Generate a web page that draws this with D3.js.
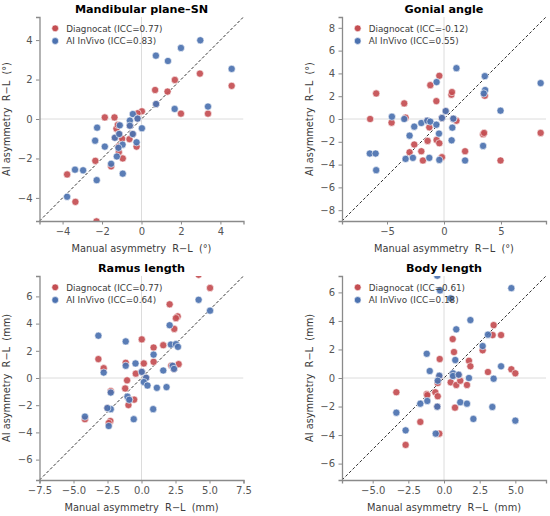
<!DOCTYPE html>
<html>
<head>
<meta charset="utf-8">
<script src="https://cdn.jsdelivr.net/npm/d3@7"></script>
<style>
  body { margin: 0; background: #fff; }
  svg { font-family: "DejaVu Sans", sans-serif; }
</style>
</head>
<body>
<script>
// panel titles, units, legends
const titles = ["Mandibular plane\u2013SN", "Gonial angle", "Ramus length", "Body length"];
const units = ["(\u00b0)", "(\u00b0)", "(mm)", "(mm)"];
const iccDiagnocat = ["0.77", "-0.12", "0.77", "0.61"];
const iccInvivo = ["0.83", "0.55", "0.64", "0.18"];
const limits = [5.17, 8.95, 7.5, 7.15];
const xTicks = [[-4, -2, 0, 2, 4], [-5, 0, 5], [-7.5, -5, -2.5, 0, 2.5, 5, 7.5], [-5, -2.5, 0, 2.5, 5]];
const yTicks = [[-4, -2, 0, 2, 4], [-8, -6, -4, -2, 0, 2, 4, 6, 8], [-6, -4, -2, 0, 2, 4, 6], [-6, -4, -2, 0, 2, 4, 6]];
const xTickFormats = ["d", "d", ".1f", ".1f"];

// [manual, AI] pairs
const mandDiagnocat = [[2.96, 2.3], [1.69, 1.98], [0.69, 1.47], [1.32, 1.39], [4.57, 1.68], [2.0, 0.27], [3.37, 0.27],
  [0.74, 0.76], [0.02, 0.39], [-0.2, 0.29], [-1.86, 0.08], [-1.37, 0.08], [-1.27, -0.49], [-1.2, -0.3],
  [-0.98, -1.0], [-0.61, -1.02], [-0.25, -1.4], [-1.17, -1.4], [-1.15, -1.68], [-0.95, -2.0], [-2.34, -2.12],
  [-1.54, -2.4], [-3.77, -2.81], [-3.35, -4.2], [-2.28, -5.19], [-0.44, -0.76], [-1.35, -0.95], [-0.59, -0.34],
  [-0.2, 0.02], [-1.13, -0.76]];
const mandInvivo = [[2.98, 3.99], [2.0, 3.6], [0.73, 3.21], [1.34, 2.94], [4.57, 2.54], [0.74, 0.76], [1.68, 0.51],
  [3.37, 0.63], [-0.44, 0.25], [-0.2, 0.02], [-0.59, -0.08], [0.02, -0.47], [-1.1, -0.32], [-0.59, -0.34],
  [-2.25, -0.44], [-1.35, -0.95], [-1.13, -0.76], [-0.44, -0.76], [-2.35, -1.1], [-1.86, -1.4], [-0.96, -1.3],
  [-1.17, -1.46], [-0.25, -1.18], [-1.25, -1.9], [-1.54, -2.27], [-3.37, -2.57], [-2.96, -2.6], [-0.95, -2.77],
  [-2.27, -3.1], [-3.77, -3.94]];

const gonialDiagnocat = [[-6.48, 0.0], [-5.95, 2.24], [-4.6, -0.32], [-3.49, 1.37], [-3.37, 0.12], [-3.02, -2.92],
  [-2.61, -2.24], [-1.99, -2.83], [-1.85, -3.64], [-1.44, -1.92], [-1.29, -0.73], [-1.2, 2.97], [-0.67, 1.57],
  [-0.65, -1.84], [-0.41, 3.79], [-0.41, -2.13], [-0.18, -3.35], [0.65, 2.13], [0.7, 2.36], [1.09, -0.15],
  [1.85, -2.83], [3.43, -1.34], [3.52, -1.22], [3.58, 2.04], [4.96, -3.64], [8.48, -1.22], [0.15, 0.7],
  [-1.47, -0.15], [-0.18, 0.09], [0.82, 0.03]];
const gonialInvivo = [[1.09, 4.46], [-0.65, 3.24], [3.58, 3.76], [3.61, 2.54], [3.49, 2.24], [8.48, 3.15], [4.96, 0.73],
  [0.15, 0.7], [-0.18, 0.09], [0.82, 0.03], [-4.57, 0.2], [-3.49, 0.0], [-2.61, -0.67], [-1.99, -0.35],
  [-1.47, -0.15], [-1.2, -0.23], [-0.67, -0.5], [0.73, -0.76], [-0.44, -1.28], [-3.02, -1.46], [0.67, -1.87],
  [3.43, -2.36], [-6.51, -3.03], [-6.0, -3.03], [-5.95, -4.49], [-3.37, -3.5], [-2.73, -3.41], [-1.29, -3.41],
  [-0.41, -3.59], [1.85, -3.64]];

const ramusDiagnocat = [[4.2, 7.59], [5.04, 6.62], [2.07, 5.42], [2.66, 4.53], [2.53, 4.4], [2.41, 3.61], [0.02, 2.84],
  [0.89, 2.24], [1.6, 2.41], [-3.17, 1.39], [-2.78, 0.72], [-1.16, 1.12], [0.17, 1.07], [0.89, 1.19], [2.73, 1.02],
  [2.19, 0.92], [-0.42, 0.32], [-1.06, -0.17], [-1.2, -0.77], [-2.26, -0.97], [-0.54, -1.59], [-0.96, -1.99],
  [-0.9, -1.55], [-2.51, -2.21], [-2.29, -3.16], [-2.41, -3.31], [-4.16, -3.03], [0.02, 0.45], [0.34, 0.02],
  [2.39, 0.67]];
const ramusInvivo = [[4.2, 5.75], [5.04, 4.95], [2.07, 3.88], [-3.17, 3.11], [-1.16, 2.69], [2.16, 2.46], [2.53, 2.49],
  [2.68, 2.29], [0.89, 1.72], [-0.44, 1.07], [-1.16, 0.9], [-2.78, 0.4], [2.29, 0.9], [2.39, 0.67], [1.6, 0.55],
  [0.02, 0.45], [0.34, 0.02], [0.17, -0.3], [0.44, -0.55], [1.13, -0.72], [1.84, -0.67], [-2.26, -1.07],
  [-1.03, -1.37], [-0.9, -1.6], [-2.26, -2.29], [-2.51, -2.21], [0.86, -2.29], [-0.57, -3.03], [-2.41, -3.53],
  [-4.16, -2.84]];

const bodyDiagnocat = [[3.48, 3.71], [4.0, 3.01], [3.41, 3.01], [0.61, 2.73], [0.7, 1.82], [2.71, 1.94], [-0.3, 1.33],
  [1.75, 1.21], [1.85, 0.82], [3.08, 0.42], [4.72, 0.61], [5.0, 0.33], [0.47, -0.3], [0.86, -0.49], [1.14, -0.19],
  [1.61, -0.49], [0.77, -2.08], [-3.34, -1.0], [-1.21, -1.12], [-0.61, -1.0], [-0.44, -1.28], [-1.66, -3.08],
  [-2.69, -4.69], [-0.33, -3.9], [-0.44, -0.35], [-1.17, -1.2], [0.63, 0.2], [-0.33, 0.1], [1.03, 0.2],
  [-0.47, -2.0]];
const bodyInvivo = [[-0.47, 7.17], [-0.28, 6.14], [0.47, 5.58], [4.72, 6.3], [1.85, 4.06], [0.86, 3.41], [3.08, 3.04],
  [2.71, 2.24], [-1.21, 1.7], [0.79, 1.26], [-1.0, 0.49], [-0.33, 0.16], [-0.44, -0.19], [0.63, 0.33], [0.63, 0.14],
  [1.03, 0.23], [1.75, 0.0], [4.0, 0.82], [3.48, -0.05], [1.14, -1.7], [1.61, -1.8], [3.39, -2.03], [2.06, -2.87],
  [5.0, -2.99], [-1.66, -1.8], [-1.17, -1.61], [-0.47, -2.01], [-3.34, -2.43], [-2.69, -3.67], [-0.58, -3.9]];

const diagnocatSets = [mandDiagnocat, gonialDiagnocat, ramusDiagnocat, bodyDiagnocat];
const invivoSets = [mandInvivo, gonialInvivo, ramusInvivo, bodyInvivo];

const red = "#c44e52";
const blue = "#4c72b0";

const width = 550, height = 516;
const size = 204;
const origins = [[39.5, 17], [342, 17], [39.5, 276], [342, 276]];

const svg = d3.select("body").append("svg")
  .attr("width", width)
  .attr("height", height);

titles.forEach((title, i) => {
  const [ox, oy] = origins[i];
  const L = limits[i];
  const x = d3.scaleLinear().domain([-L, L]).range([0, size]);
  const y = d3.scaleLinear().domain([-L, L]).range([size, 0]);
  const g = svg.append("g").attr("transform", `translate(${ox},${oy})`);

  g.append("clipPath").attr("id", "clip" + i)
    .append("rect").attr("width", size).attr("height", size);

  const plot = g.append("g").attr("clip-path", `url(#clip${i})`);

  // zero lines
  plot.append("line")
    .attr("x1", 0).attr("x2", size).attr("y1", y(0)).attr("y2", y(0))
    .attr("stroke", "#dcdcdc").attr("stroke-width", 1);
  plot.append("line")
    .attr("x1", x(0)).attr("x2", x(0)).attr("y1", 0).attr("y2", size)
    .attr("stroke", "#dcdcdc").attr("stroke-width", 1);

  // identity line
  plot.append("line")
    .attr("x1", x(-L)).attr("y1", y(-L)).attr("x2", x(L)).attr("y2", y(L))
    .attr("stroke", "#333").attr("stroke-width", 1)
    .attr("stroke-dasharray", "3,2");

  [[diagnocatSets[i], red], [invivoSets[i], blue]].forEach(([pts, col]) => {
    plot.selectAll(null)
      .data(pts)
      .enter()
      .append("circle")
      .attr("cx", d => x(d[0]))
      .attr("cy", d => y(d[1]))
      .attr("r", 3.6)
      .attr("fill", col)
      .attr("fill-opacity", 0.92)
      .attr("stroke", "#fff")
      .attr("stroke-width", 0.6);
  });

  const xAxis = d3.axisBottom(x).tickValues(xTicks[i]).tickFormat(d3.format(xTickFormats[i]))
    .tickSizeOuter(0).tickSize(3.5).tickPadding(3.5);
  const yAxis = d3.axisLeft(y).tickValues(yTicks[i]).tickFormat(d3.format("d"))
    .tickSizeOuter(0).tickSize(3.5).tickPadding(3.5);

  const xg = g.append("g").attr("transform", `translate(0,${size})`).call(xAxis);
  const yg = g.append("g").call(yAxis);
  [xg, yg].forEach(ax => {
    ax.select(".domain").attr("stroke", "#8a8a8a").attr("stroke-width", 1.3);
    ax.selectAll(".tick line").attr("stroke", "#8a8a8a").attr("stroke-width", 1);
    ax.selectAll(".tick text").attr("fill", "#555").style("font-size", "10px")
      .style("font-family", "DejaVu Sans, sans-serif");
  });

  // title
  g.append("text")
    .attr("x", size / 2).attr("y", -4.5)
    .attr("text-anchor", "middle")
    .style("font-weight", "bold").style("font-size", "11.2px")
    .attr("fill", "#000")
    .text(title);

  // axis labels
  g.append("text")
    .attr("x", size / 2).attr("y", size + 31)
    .attr("text-anchor", "middle")
    .style("font-size", "9.8px").attr("fill", "#3c3c3c")
    .attr("xml:space", "preserve")
    .text(`Manual asymmetry  R\u2212L  ${units[i]}`);
  g.append("text")
    .attr("transform", `translate(-29.5,${size / 2}) rotate(-90)`)
    .attr("text-anchor", "middle")
    .style("font-size", "9.8px").attr("fill", "#3c3c3c")
    .attr("xml:space", "preserve")
    .text(`AI asymmetry  R\u2212L  ${units[i]}`);

  // legend
  const legend = g.append("g").attr("transform", "translate(15.7,11.3)");
  [[`Diagnocat (ICC=${iccDiagnocat[i]})`, red], [`AI InVivo (ICC=${iccInvivo[i]})`, blue]].forEach(([label, col], k) => {
    legend.append("circle")
      .attr("cx", 0).attr("cy", k * 12.7)
      .attr("r", 3.4).attr("fill", col).attr("stroke", "#fff").attr("stroke-width", 0.6);
    legend.append("text")
      .attr("x", 11).attr("y", k * 12.7 + 3.2)
      .style("font-size", "8.8px").attr("fill", "#3c3c3c")
      .text(label);
  });
});
</script>
</body>
</html>
